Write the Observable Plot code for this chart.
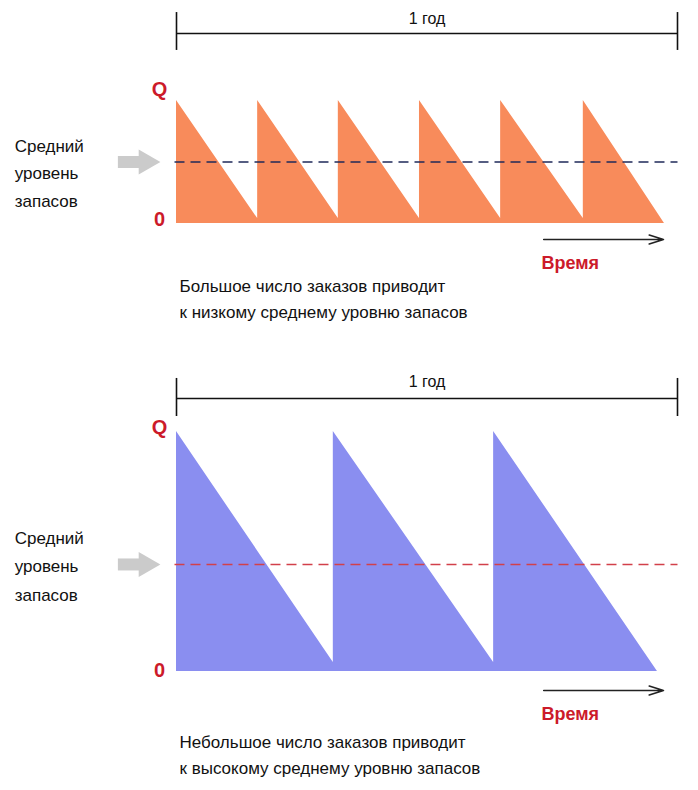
<!DOCTYPE html>
<html><head><meta charset="utf-8">
<script src="https://cdn.jsdelivr.net/npm/d3@7"></script>
<script src="https://cdn.jsdelivr.net/npm/@observablehq/plot@0.6"></script>
<style>
body{margin:0;background:#fff;}
#chart svg{display:block;}
</style>
</head><body><div id="chart"></div>
<script>
// ---- data ----
const Q = 1;
// Panel 1: many orders per year (order times as fraction of year)
const ordersMany = [0, 0.162, 0.323, 0.485, 0.647, 0.812];
const endMany = 0.974;
const lowMany = 0.04;
const avgMany = 0.5;
// Panel 2: few orders per year
const ordersFew = [0, 0.313, 0.633];
const endFew = 0.96;
const lowFew = 0.0375;
const avgFew = 0.446;
// stock level at the end of the last cycle
const finalLevel = 0;

const yearLabel = "1 год";
const qLabel = "Q";
const zeroLabel = "0";
const avgLabel = "Средний\nуровень\nзапасов";
const timeLabel = "Время";
const captionMany = "Большое число заказов приводит\nк низкому среднему уровню запасов";
const captionFew = "Небольшое число заказов приводит\nк высокому среднему уровню запасов";

function sawtooth(orders, end, low) {
  const rows = [];
  orders.forEach((t, i) => {
    const last = i + 1 >= orders.length;
    const next = last ? end : orders[i + 1];
    rows.push({t, q: Q}, {t: next, q: last ? finalLevel : low});
  });
  return rows;
}

const FONT = "'Liberation Sans', Arial, sans-serif";
const RED = "#cc1a2a";

function panel(o) {
  return Plot.plot({
    width: 698,
    height: o.height,
    marginLeft: 176,
    marginRight: 21,
    marginTop: o.marginTop,
    marginBottom: o.marginBottom,
    x: {domain: [0, 1], axis: null},
    y: {domain: [0, Q], axis: null},
    style: {fontFamily: FONT, overflow: "visible", background: "#fff"},
    marks: [
      Plot.areaY(o.data, {x: "t", y1: 0, y2: "q", fill: o.fill, curve: "linear"}),
      Plot.link([o.avg], {x1: -0.004, x2: 1, y1: d => d, y2: d => d,
        stroke: o.dash, strokeWidth: 1.6, strokeDasharray: "10,6"}),
      // year bracket
      Plot.link([o.bracket], {x1: 0, x2: 1, y1: d => d, y2: d => d, stroke: "#111", strokeWidth: 1.6}),
      Plot.ruleX([0, 1], {y1: o.tickLo, y2: o.tickHi, stroke: "#111", strokeWidth: 1.6}),
      Plot.text([yearLabel], {x: 0.5, y: o.yearY, text: d => d, fontSize: 16, fill: "#111"}),
      // Q and 0
      Plot.text([qLabel], {x: -0.034, y: o.qY, text: d => d, fontSize: 20, fontWeight: "bold", fill: RED}),
      Plot.text([zeroLabel], {x: -0.034, y: o.zeroY, text: d => d, fontSize: 20, fontWeight: "bold", fill: RED}),
      // gray pointer arrow
      Plot.link([o.avg], {x1: -0.117, x2: -0.068, y1: d => d, y2: d => d, stroke: "#cbcbcb", strokeWidth: 12}),
      Plot.dot([o.avg], {x: -0.061, y: d => d, symbol: "triangle", rotate: 90, r: 9.3, fill: "#cbcbcb"}),
      // left label
      Plot.text([avgLabel], {x: -0.323, y: o.labelY, text: d => d, textAnchor: "start",
        lineAnchor: "middle", lineHeight: o.labelLH, fontSize: 17, fill: "#111"}),
      // time arrow
      Plot.arrow([o.arrowY], {x1: 0.733, x2: 0.972, y1: d => d, y2: d => d,
        stroke: "#222", strokeWidth: 1.6, headLength: 14, headAngle: 35}),
      Plot.text([timeLabel], {x: 0.786, y: o.timeY, text: d => d, fontSize: 18, fontWeight: "bold", fill: RED}),
      // caption
      Plot.text([o.caption], {x: 0.006, y: o.capY, text: d => d, textAnchor: "start",
        lineAnchor: "top", lineHeight: 1.55, fontSize: 17, fill: "#111"})
    ]
  });
}

const chart = document.getElementById("chart");
chart.append(panel({
  height: 350, marginTop: 100, marginBottom: 127,
  data: sawtooth(ordersMany, endMany, lowMany),
  fill: "#f88b5b", dash: "#1f2a5a", avg: avgMany,
  bracket: 1.545, tickLo: 1.407, tickHi: 1.715, yearY: 1.667,
  qY: 1.09, zeroY: 0.03, labelY: 0.43, labelLH: 1.6,
  arrowY: -0.13, timeY: -0.325, caption: captionMany, capY: -0.405
}));
chart.append(panel({
  height: 440, marginTop: 81, marginBottom: 119,
  data: sawtooth(ordersFew, endFew, lowFew),
  fill: "#8a8ef0", dash: "#d2404a", avg: avgFew,
  bracket: 1.1375, tickLo: 1.0625, tickHi: 1.221, yearY: 1.208,
  qY: 1.017, zeroY: 0.004, labelY: 0.45, labelLH: 1.65,
  arrowY: -0.079, timeY: -0.179, caption: captionFew, capY: -0.24
}));
</script>
</body></html>
